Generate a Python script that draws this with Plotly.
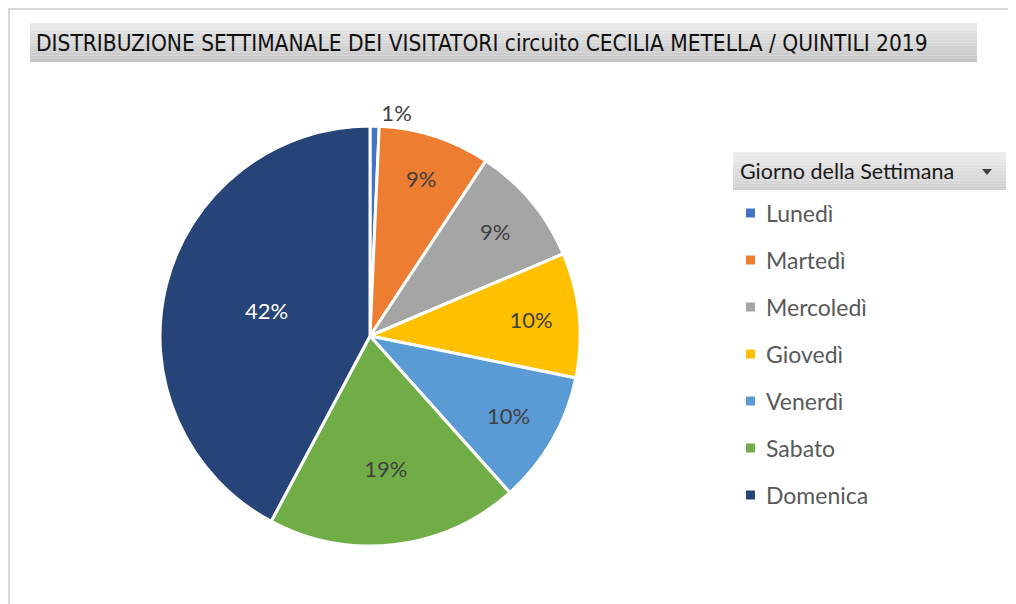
import plotly.graph_objects as go

OFF = 8          # page body offset
W, H = 1016 - OFF, 604 - OFF

giorni = ["Lunedì", "Martedì", "Mercoledì", "Giovedì", "Venerdì", "Sabato", "Domenica"]
quote = [0.7, 8.6, 9.3, 9.6, 10.2, 19.4, 42.2]
colori = ["#4472C4", "#ED7D31", "#A5A5A5", "#FFC000", "#5B9BD5", "#70AD47", "#264478"]
colori_testo = ["#404040", "#404040", "#404040", "#404040", "#404040", "#404040", "#FFFFFF"]
posizioni_testo = ["outside", "inside", "inside", "inside", "inside", "inside", "inside"]

titolo = "DISTRIBUZIONE SETTIMANALE DEI VISITATORI circuito CECILIA METELLA / QUINTILI 2019"
titolo_legenda = "Giorno della Settimana"

FONT = "Lato, Liberation Sans, sans-serif"


def px(x):
    return (x - OFF) / W


def py(y):
    return 1 - (y - OFF) / H


fig = go.Figure()
fig.add_trace(go.Pie(
    labels=giorni,
    values=quote,
    sort=False,
    direction="clockwise",
    rotation=0,
    marker=dict(colors=colori, line=dict(color="white", width=3)),
    texttemplate="%{percent:.0%}",
    textposition=posizioni_testo,
    insidetextorientation="horizontal",
    textfont=dict(family=FONT, size=22, color=colori_testo),
    outsidetextfont=dict(family=FONT, size=22, color="#404040"),
    domain=dict(x=[px(160), px(580)], y=[py(546), py(126)]),
    showlegend=False,
    hoverinfo="label+percent",
))

shapes = []
annotations = []

# chart frame lines
shapes.append(dict(type="line", xref="paper", yref="paper", x0=px(8), x1=px(1015), y0=py(9), y1=py(9),
                   line=dict(color="#d9d9d9", width=2)))
shapes.append(dict(type="line", xref="paper", yref="paper", x0=px(9), x1=px(9), y0=py(8), y1=py(604),
                   line=dict(color="#d9d9d9", width=2)))


def gradient_box(x0, x1, y0, y1, top, bottom, n=12):
    for i in range(n):
        t = i / (n - 1)
        c = tuple(int(round(top[k] + (bottom[k] - top[k]) * t)) for k in range(3))
        ya = y0 + (y1 - y0) * i / n
        yb = y0 + (y1 - y0) * (i + 1) / n
        shapes.append(dict(type="rect", xref="paper", yref="paper", x0=px(x0), x1=px(x1),
                           y0=py(yb), y1=py(ya), fillcolor="rgb(%d,%d,%d)" % c,
                           line=dict(width=0), layer="below"))


# title bar
gradient_box(30, 977, 23, 62, (232, 232, 232), (198, 198, 198))
annotations.append(dict(text=titolo, xref="paper", yref="paper", x=px(34), y=py(43),
                        xanchor="left", yanchor="middle", showarrow=False,
                        font=dict(family="DejaVu Sans Condensed, DejaVu Sans, sans-serif", size=22.5,
                                  color="#111111")))

# legend header
gradient_box(733, 1006, 152, 190, (236, 236, 236), (208, 208, 208))
annotations.append(dict(text=titolo_legenda, xref="paper", yref="paper", x=px(738), y=py(171),
                        xanchor="left", yanchor="middle", showarrow=False,
                        font=dict(family=FONT, size=21.5, color="#1a1a1a")))
# dropdown arrow
shapes.append(dict(type="path", xref="paper", yref="paper",
                   path="M %f %f L %f %f L %f %f Z" % (px(982), py(169), px(992), py(169), px(987), py(175)),
                   fillcolor="#404040", line=dict(width=0)))

# legend items
for i, (g, c) in enumerate(zip(giorni, colori)):
    yc = 213 + i * 47
    shapes.append(dict(type="rect", xref="paper", yref="paper", x0=px(746), x1=px(755),
                       y0=py(yc + 4.5), y1=py(yc - 4.5), fillcolor=c, line=dict(width=0)))
    annotations.append(dict(text=g, xref="paper", yref="paper", x=px(764), y=py(yc),
                            xanchor="left", yanchor="middle", showarrow=False,
                            font=dict(family=FONT, size=23, color="#595959")))

fig.update_layout(
    width=W, height=H,
    margin=dict(l=0, r=0, t=0, b=0),
    paper_bgcolor="white",
    plot_bgcolor="white",
    shapes=shapes,
    annotations=annotations,
)

fig.write_html("out.html")
